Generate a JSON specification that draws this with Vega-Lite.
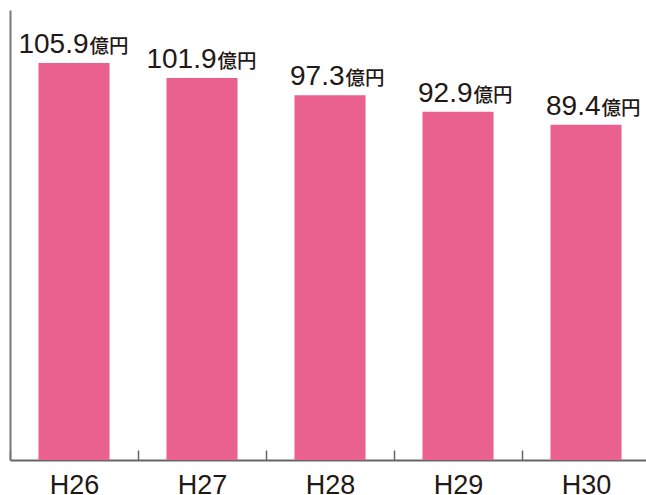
{
  "$schema": "https://vega.github.io/schema/vega-lite/v6.json",
  "width": 636,
  "height": 450,
  "autosize": {"type": "none"},
  "padding": {"left": 10, "top": 10, "right": 0, "bottom": 35},
  "background": "white",
  "config": {"view": {"stroke": null}},
  "data": {
    "values": [
      {"year": "H26", "value": 105.9},
      {"year": "H27", "value": 101.9},
      {"year": "H28", "value": 97.3},
      {"year": "H29", "value": 92.9},
      {"year": "H30", "value": 89.4}
    ]
  },
  "encoding": {
    "x": {
      "field": "year",
      "type": "nominal",
      "sort": null,
      "scale": {"range": [0, 640], "paddingInner": 0, "paddingOuter": 0},
      "axis": {
        "title": null,
        "labelAngle": 0,
        "labelFont": "Liberation Sans",
        "labelFontSize": 27,
        "labelColor": "#231815",
        "labelBaseline": "alphabetic",
        "labelPadding": 43,
        "tickBand": "extent",
        "tickSize": -10,
        "tickColor": "#666666",
        "tickWidth": 1.5,
        "domainColor": "#666666",
        "domainWidth": 2,
        "grid": false
      }
    },
    "y": {
      "field": "value",
      "type": "quantitative",
      "scale": {"domain": [0, 120], "nice": false},
      "axis": {
        "title": null,
        "labels": false,
        "ticks": false,
        "grid": false,
        "domainColor": "#777777",
        "domainWidth": 2
      }
    }
  },
  "layer": [
    {"mark": {"type": "bar", "color": "#EA608E", "width": {"band": 0.555}}},
    {
      "mark": {"type": "text", "align": "right", "baseline": "alphabetic", "dx": 14.5, "dy": -10, "font": "Liberation Sans", "fontSize": 28, "color": "#231815"},
      "encoding": {"text": {"field": "value", "type": "quantitative", "format": ".1f"}}
    },
    {
      "mark": {"type": "text", "align": "left", "baseline": "alphabetic", "dx": 15.5, "dy": -10, "font": "Noto Sans CJK JP", "fontSize": 19.5, "fontWeight": 500, "color": "#231815", "text": "億円"}
    }
  ]
}
